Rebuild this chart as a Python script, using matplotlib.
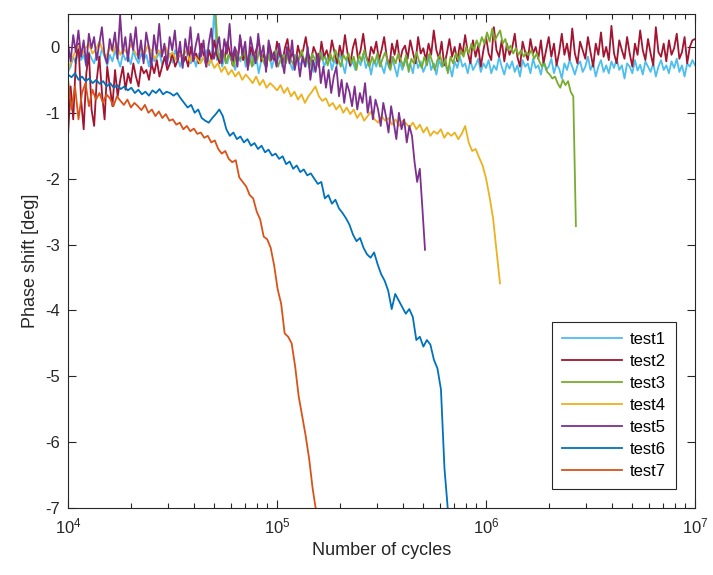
import numpy as np
import matplotlib
matplotlib.use('Agg')
import matplotlib.pyplot as plt
from matplotlib.ticker import LogLocator

plt.rcParams['font.family'] = ['Liberation Sans', 'DejaVu Sans']
plt.rcParams['mathtext.fontset'] = 'custom'
plt.rcParams['mathtext.rm'] = 'Liberation Sans'
plt.rcParams['mathtext.it'] = 'Liberation Sans:italic'
plt.rcParams['axes.unicode_minus'] = False

# valores: fase [deg] sobre una rejilla en log10(ciclos)
# cada serie: rango (log10 inicio, log10 fin) y valores
test1_rango = (4.0, 7.0)
test1 = [-0.38, -0.3, -0.15, -0.25, -0.05, -0.2, -0.12, -0.3, -0.08, -0.18,
         -0.25, -0.1, -0.2, -0.02, -0.15, -0.28, -0.12, -0.22, -0.05, -0.18,
         -0.3, -0.1, -0.2, -0.14, -0.26, -0.06, -0.18, -0.25, -0.1, -0.2,
         -0.12, -0.3, -0.05, -0.22, -0.16, -0.08, -0.27, -0.15, -0.2, -0.1,
         -0.24, -0.05, -0.18, -0.3, -0.12, -0.2, -0.08, -0.25, -0.15, -0.3,
         -0.1, -0.22, -0.15, -0.05, -0.28, -0.12, 0.6, -0.2, -0.1, -0.3,
         -0.15, -0.25, -0.08, -0.2, -0.35, -0.12, -0.22, -0.05, -0.3, -0.18,
         -0.1, -0.28, -0.15, -0.4, -0.2, -0.12, -0.25, -0.08, -0.32, -0.16,
         -0.22, -0.1, -0.3, -0.18, -0.05, -0.25, -0.35, -0.12, -0.2, -0.28,
         -0.15, -0.3, -0.1, -0.22, -0.38, -0.14, -0.25, -0.08, -0.3, -0.2,
         -0.12, -0.35, -0.2, -0.28, -0.1, -0.25, -0.4, -0.15, -0.3, -0.22,
         -0.35, -0.18, -0.28, -0.1, -0.32, -0.22, -0.42, -0.2, -0.3, -0.15,
         -0.28, -0.4, -0.2, -0.33, -0.15, -0.3, -0.45, -0.22, -0.35, -0.18,
         -0.3, -0.25, -0.4, -0.15, -0.32, -0.22, -0.38, -0.28, -0.12, -0.35,
         -0.25, -0.42, -0.2, -0.3, -0.18, -0.35, -0.28, -0.45, -0.22, -0.32,
         -0.15, -0.3, -0.25, -0.4, -0.2, -0.35, -0.28, -0.18, -0.38, -0.25,
         -0.32, -0.2, -0.4, -0.28, -0.35, -0.15, -0.3, -0.42, -0.25, -0.33,
         -0.22, -0.38, -0.28, -0.45, -0.2, -0.3, -0.25, -0.4, -0.18, -0.32,
         -0.28, -0.42, -0.22, -0.35, -0.3, -0.18, -0.4, -0.26, -0.33, -0.48,
         -0.25, -0.35, -0.2, -0.3, -0.42, -0.28, -0.22, -0.38, -0.3, -0.15,
         -0.35, -0.25, -0.45, -0.3, -0.2, -0.38, -0.28, -0.4, -0.22, -0.32,
         -0.18, -0.35, -0.28, -0.48, -0.25, -0.3, -0.4, -0.2, -0.36, -0.27,
         -0.42, -0.22, -0.3, -0.38, -0.25, -0.45, -0.3, -0.2, -0.35, -0.28,
         -0.4, -0.22, -0.32, -0.18, -0.38, -0.28, -0.45, -0.25, -0.3, -0.2,
         -0.28]

test2_rango = (4.0, 7.0)
test2 = [-1.35, -0.6, -1.1, -0.2, 0.05, -0.8, -1.25, -0.4, -0.1, -0.95,
         -1.2, -0.5, -0.15, -0.7, -1.1, -0.3, -0.6, -0.9, -0.35, -0.75,
         -0.5, -0.3, -0.65, -0.4, -0.55, -0.25, -0.45, -0.6, -0.3, -0.4,
         -0.35, -0.5, -0.25, -0.4, -0.2, -0.45, -0.3, -0.15, -0.35, -0.25,
         -0.1, -0.3, -0.2, -0.05, -0.25, -0.15, -0.3, 0.0, -0.2, -0.1,
         -0.25, 0.05, -0.15, -0.3, -0.05, -0.2, 0.1, -0.12, -0.25, -0.05,
         -0.18, 0.08, -0.1, -0.28, -0.02, -0.15, 0.12, -0.2, -0.08, -0.3,
         0.0, -0.15, -0.05, 0.1, -0.22, -0.1, -0.3, 0.05, -0.12, -0.2,
         0.08, -0.1, -0.25, -0.02, 0.12, -0.18, -0.08, -0.28, 0.02, -0.15,
         -0.05, 0.15, -0.12, -0.22, 0.0, -0.1, -0.3, 0.08, -0.15, -0.05,
         -0.2, 0.1, -0.08, -0.25, 0.02, -0.15, 0.18, -0.1, -0.28, -0.02,
         0.12, -0.18, -0.05, 0.2, -0.12, -0.25, 0.0, -0.1, 0.08, -0.2,
         -0.05, 0.15, -0.15, -0.3, 0.05, -0.12, 0.1, -0.22, -0.05, 0.02,
         -0.18, 0.1, -0.08, -0.25, 0.15, -0.1, -0.02, -0.2, 0.05, -0.12,
         0.25, -0.05, -0.18, 0.08, -0.28, -0.1, 0.12, -0.15, 0.0, -0.22,
         0.05, -0.12, 0.18, -0.08, -0.25, 0.1, -0.15, 0.02, -0.3, -0.05,
         0.15, -0.1, -0.2, 0.3, -0.05, -0.15, 0.1, -0.22, 0.05, -0.12,
         -0.02, 0.2, -0.15, -0.3, 0.08, -0.08, -0.2, 0.12, -0.1, 0.0,
         -0.18, 0.1, -0.25, -0.05, 0.15, -0.15, 0.05, -0.28, -0.08, 0.2,
         -0.12, 0.05, -0.2, 0.28, -0.1, -0.25, 0.08, -0.05, -0.18, 0.15,
         -0.08, -0.3, 0.05, -0.12, 0.22, -0.15, 0.0, -0.2, 0.32, -0.1,
         -0.25, 0.1, -0.05, -0.18, 0.15, -0.1, -0.3, 0.05, -0.12, 0.25,
         -0.05, -0.2, 0.12, -0.1, -0.28, 0.3, -0.08, -0.15, 0.05, -0.22,
         0.1, -0.12, -0.02, 0.2, -0.18, -0.08, 0.15, -0.25, 0.0, 0.1,
         0.12]

test3_rango = (4.705, 6.43)
test3 = [0.6, -0.1, -0.2, -0.05, -0.25, -0.12, -0.18, -0.3, -0.08, -0.2,
         -0.15, -0.05, -0.25, -0.12, -0.3, -0.1, -0.2, -0.02, -0.18, -0.28,
         -0.1, -0.22, -0.15, -0.05, -0.3, -0.18, -0.12, -0.25, -0.08, -0.2,
         -0.28, -0.12, -0.2, -0.05, -0.22, -0.15, -0.32, -0.1, -0.18, -0.25,
         -0.08, -0.2, -0.15, -0.28, -0.1, -0.22, -0.05, -0.18, -0.3, -0.12,
         -0.2, -0.1, -0.25, -0.15, -0.35, -0.12, -0.22, -0.05, -0.2, -0.3,
         -0.15, -0.25, -0.1, -0.3, -0.18, -0.08, -0.22, -0.35, -0.15, -0.25,
         -0.1, -0.2, -0.3, -0.12, -0.38, -0.18, -0.25, -0.08, -0.22, -0.32,
         -0.15, -0.28, -0.1, -0.22, -0.35, -0.2, -0.12, -0.3, -0.18, -0.4,
         -0.15, -0.25, -0.1, -0.2, -0.05, -0.15, 0.0, -0.1, 0.05, -0.05,
         0.1, 0.0, 0.15, 0.05, 0.22, 0.08, 0.28, 0.1, 0.18, 0.25,
         0.05, 0.12, -0.05, 0.02, -0.1, -0.02, -0.12, -0.05, -0.15, -0.08,
         -0.12, -0.05, -0.18, -0.1, -0.22, -0.3, -0.25, -0.38, -0.42, -0.48,
         -0.45, -0.55, -0.62, -0.5, -0.58, -0.52, -0.68, -0.75, -2.72]

test4_rango = (4.0, 6.067)
test4 = [-0.35, -0.2, -0.08, 0.02, -0.12, -0.02, 0.05, -0.1, -0.04, 0.08,
         -0.06, -0.15, 0.0, -0.08, 0.06, -0.12, -0.03, -0.1, 0.04, -0.06,
         -0.14, -0.02, -0.1, 0.03, -0.08, -0.18, -0.05, -0.12, 0.0, -0.15,
         -0.08, -0.2, -0.1, -0.16, -0.05, -0.22, -0.12, -0.18, -0.25, -0.15,
         -0.28, -0.2, -0.32, -0.25, -0.38, -0.3, -0.42, -0.35, -0.45, -0.38,
         -0.5, -0.42, -0.48, -0.55, -0.45, -0.58, -0.5, -0.62, -0.55, -0.6,
         -0.66, -0.58, -0.7, -0.62, -0.75, -0.68, -0.8, -0.72, -0.85, -0.75,
         -0.68, -0.6, -0.75, -0.82, -0.78, -0.9, -0.85, -0.95, -0.88, -1.0,
         -0.92, -1.02, -0.95, -1.08, -1.0, -1.12, -1.05, -0.98, -1.1, -1.15,
         -1.05, -1.12, -1.08, -1.18, -1.1, -1.2, -1.12, -1.16, -1.22, -1.15,
         -1.25, -1.18, -1.3, -1.22, -1.35, -1.28, -1.32, -1.25, -1.38, -1.3,
         -1.35, -1.3, -1.4, -1.32, -1.2, -1.45, -1.58, -1.55, -1.68, -1.8,
         -2.0, -2.28, -2.6, -3.1, -3.59]

test5_rango = (4.0, 5.708)
test5 = [0.05, -0.22, 0.18, -0.08, 0.25, -0.15, 0.1, -0.28, 0.2, -0.02,
         0.15, -0.2, 0.05, 0.3, -0.12, -0.25, 0.12, -0.05, 0.22, -0.18,
         0.48, -0.1, 0.15, -0.22, 0.2, -0.05, 0.3, -0.18, 0.1, -0.25,
         0.22, 0.0, -0.3, 0.18, -0.1, 0.35, -0.15, 0.05, -0.28, 0.15,
         -0.05, 0.25, -0.2, 0.08, -0.32, 0.12, -0.12, 0.3, -0.22, 0.02,
         0.2, -0.15, 0.1, -0.3, 0.05, 0.28, -0.18, -0.02, 0.15, -0.25,
         0.12, -0.1, 0.35, -0.2, 0.0, -0.3, 0.18, -0.12, 0.08, -0.35,
         0.15, -0.05, -0.25, 0.2, -0.15, 0.02, -0.38, 0.1, -0.2, -0.08,
         -0.3, 0.05, -0.18, -0.4, 0.0, -0.25, 0.1, -0.35, -0.12, -0.45,
         -0.15, -0.3, 0.0, -0.5, -0.2, -0.38, -0.1, -0.55, -0.3, -0.62,
         -0.35, -0.7, -0.45, -0.3, -0.75, -0.5, -0.85, -0.55, -0.68, -0.9,
         -0.6, -0.95, -0.7, -0.85, -0.55, -1.0, -0.75, -1.1, -0.8, -0.95,
         -1.2, -0.85, -1.05, -1.3, -0.9, -1.15, -1.4, -1.0, -1.25, -1.1,
         -1.45, -1.2, -1.35, -1.75, -2.05, -1.85, -2.45, -3.08]

test6_rango = (4.0, 5.818)
test6 = [-0.42, -0.46, -0.4, -0.5, -0.45, -0.52, -0.48, -0.55, -0.5, -0.56,
         -0.52, -0.6, -0.55, -0.62, -0.58, -0.64, -0.6, -0.66, -0.62, -0.7,
         -0.65, -0.72, -0.68, -0.74, -0.66, -0.7, -0.64, -0.72, -0.68, -0.7,
         -0.74, -0.7, -0.78, -0.85, -0.92, -0.88, -1.0, -0.95, -1.08, -1.12,
         -1.15, -1.08, -1.02, -0.95, -1.05, -1.25, -1.35, -1.3, -1.4, -1.36,
         -1.45, -1.4, -1.5, -1.46, -1.55, -1.5, -1.6, -1.56, -1.65, -1.62,
         -1.7, -1.66, -1.78, -1.74, -1.85, -1.8, -1.9, -1.86, -1.95, -1.92,
         -2.0, -2.08, -2.05, -2.3, -2.25, -2.38, -2.32, -2.45, -2.52, -2.6,
         -2.7, -2.85, -2.95, -2.9, -3.05, -3.15, -3.2, -3.12, -3.3, -3.45,
         -3.55, -3.7, -3.98, -3.75, -3.85, -3.95, -4.05, -3.98, -4.1, -4.45,
         -4.4, -4.55, -4.45, -4.52, -4.75, -4.88, -5.2, -6.4, -7.05]

test7_rango = (4.0, 5.187)
test7 = [-0.5, -0.95, -0.6, -1.1, -0.7, -0.55, -0.9, -0.65, -0.8, -0.7,
         -0.85, -0.72, -0.78, -0.9, -0.75, -0.82, -0.88, -0.8, -0.92, -0.85,
         -0.9, -0.96, -0.88, -1.0, -0.95, -1.05, -0.98, -1.08, -1.02, -1.12,
         -1.1, -1.18, -1.15, -1.25, -1.2, -1.28, -1.24, -1.32, -1.3, -1.38,
         -1.35, -1.45, -1.42, -1.55, -1.62, -1.58, -1.7, -1.75, -1.72, -1.98,
         -2.05, -2.12, -2.25, -2.3, -2.5, -2.62, -2.88, -2.92, -3.05, -3.32,
         -3.68, -3.9, -4.35, -4.4, -4.5, -4.85, -5.3, -5.6, -5.9, -6.25,
         -6.7, -7.05]

series = [('test1', test1_rango, test1, '#4DBEEE'),
          ('test2', test2_rango, test2, '#A2142F'),
          ('test3', test3_rango, test3, '#77AC30'),
          ('test4', test4_rango, test4, '#EDB120'),
          ('test5', test5_rango, test5, '#7E2F8E'),
          ('test6', test6_rango, test6, '#0072BD'),
          ('test7', test7_rango, test7, '#D95319')]

fig = plt.figure(figsize=(7.13, 5.75), dpi=100)
ax = fig.add_axes([0.0954, 0.1165, 0.8794, 0.8592])

for nombre, (a, b), y, color in series:
    x = np.logspace(a, b, len(y))
    ax.plot(x, y, color=color, lw=1.3, label=nombre)

ax.set_xscale('log')
ax.set_xlim(1e4, 1e7)
ax.set_ylim(-7, 0.5)
ax.set_yticks(range(-7, 1))
ax.xaxis.set_major_locator(LogLocator(base=10, numticks=10))
ax.xaxis.set_minor_locator(LogLocator(base=10, subs=np.arange(2, 10), numticks=20))

gris = '#262626'
for s in ax.spines.values():
    s.set_color(gris)
    s.set_linewidth(0.8)
ax.tick_params(which='both', direction='in', top=True, right=True, colors=gris,
               labelsize=12, labelcolor=gris)
ax.tick_params(which='major', length=6, width=0.8, pad=6)
ax.tick_params(which='minor', length=3.5, width=0.8)

ax.set_xlabel('Number of cycles', fontsize=13, color=gris, labelpad=4)
ax.set_ylabel('Phase shift [deg]', fontsize=13, color=gris, labelpad=4)

leg = ax.legend(loc='lower right', bbox_to_anchor=(0.97, 0.038), borderaxespad=0,
                fontsize=12, handlelength=3.6, labelspacing=0.42, handletextpad=0.5,
                borderpad=0.6, fancybox=False, framealpha=1)
leg.get_frame().set_edgecolor(gris)
leg.get_frame().set_linewidth(0.8)

fig.savefig('out.png', dpi=100)
